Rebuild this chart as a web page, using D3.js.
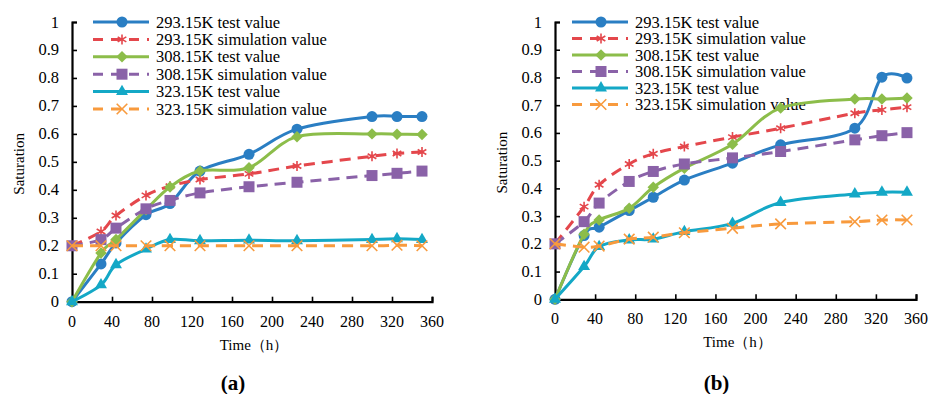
<!DOCTYPE html>
<html>
<head>
<meta charset="utf-8">
<script src="https://cdn.jsdelivr.net/npm/d3@7"></script>
<style>
    body { margin: 0; background: #fff; }
    svg { display: block; }
</style>
</head>
<body>
<svg id="chart"></svg>
<script>
// time points (h) for each panel
const timesA = [0, 29, 44, 74, 98, 128, 177, 225, 300, 325, 350];
const timesB = [0, 29, 44, 74, 98, 129, 177, 225, 299, 326, 351];

// panel (a)
const test293A = [0, 0.135, 0.21, 0.311, 0.351, 0.467, 0.527, 0.617, 0.662, 0.662, 0.662];
const sim293A  = [0.2, 0.251, 0.308, 0.38, 0.413, 0.437, 0.457, 0.485, 0.52, 0.53, 0.535];
const test308A = [0, 0.174, 0.222, 0.329, 0.41, 0.467, 0.479, 0.59, 0.6, 0.599, 0.598];
const sim308A  = [0.2, 0.222, 0.263, 0.332, 0.362, 0.389, 0.411, 0.427, 0.451, 0.459, 0.467];
const test323A = [0, 0.06, 0.132, 0.188, 0.222, 0.218, 0.22, 0.218, 0.222, 0.225, 0.222];
const sim323A  = [0.2, 0.2, 0.2, 0.2, 0.2, 0.2, 0.2, 0.2, 0.2, 0.202, 0.2];

// panel (b)
const test293B = [0, 0.23, 0.26, 0.32, 0.368, 0.43, 0.491, 0.557, 0.617, 0.801, 0.798];
const sim293B  = [0.2, 0.334, 0.413, 0.488, 0.525, 0.551, 0.585, 0.617, 0.671, 0.683, 0.693];
const test308B = [0, 0.235, 0.286, 0.328, 0.404, 0.473, 0.559, 0.69, 0.722, 0.722, 0.726];
const sim308B  = [0.2, 0.28, 0.347, 0.425, 0.461, 0.488, 0.51, 0.533, 0.575, 0.59, 0.601];
const test323B = [0, 0.118, 0.19, 0.214, 0.217, 0.244, 0.274, 0.349, 0.38, 0.386, 0.386];
const sim323B  = [0.2, 0.188, 0.192, 0.217, 0.224, 0.24, 0.256, 0.272, 0.28, 0.286, 0.286];

const seriesNames = [
    '293.15K test value', '293.15K simulation value',
    '308.15K test value', '308.15K simulation value',
    '323.15K test value', '323.15K simulation value'
];
const xTicks = [0, 40, 80, 120, 160, 200, 240, 280, 320, 360];
const yTicks = [0, 0.1, 0.2, 0.3, 0.4, 0.5, 0.6, 0.7, 0.8, 0.9, 1];

const FONT = '"Liberation Serif", "Times New Roman", serif';

const styles = [
    { color: '#2a7ec3', dash: null, marker: 'circle' },
    { color: '#e4474c', dash: '11,7', marker: 'asterisk' },
    { color: '#8cbd4a', dash: null, marker: 'diamond' },
    { color: '#8a62a8', dash: '11,7', marker: 'square' },
    { color: '#14a8c6', dash: null, marker: 'triangle' },
    { color: '#f89a3d', dash: '11,7', marker: 'times' }
];

class SaturationChart {
    constructor(_config, _times, _series) {
        this.config = {
            svg: _config.svg,
            left: _config.left,
            right: _config.right,
            top: _config.top,
            bottom: _config.bottom,
            label: _config.label,
            legendX: _config.legendX,
            legendStep: _config.legendStep
        };
        this.times = _times;
        this.series = _series;
        this.initVis();
    }

    initVis() {
        let vis = this;
        const c = vis.config;

        vis.xScale = d3.scaleLinear().domain([0, 360]).range([c.left, c.right]);
        vis.yScale = d3.scaleLinear().domain([0, 1]).range([c.bottom, c.top]);

        vis.g = c.svg.append('g');

        // axes, ticks pointing inward
        const yAxis = d3.axisRight(vis.yScale).tickValues(yTicks).tickSize(5).tickFormat('');
        const xAxis = d3.axisTop(vis.xScale).tickValues(xTicks).tickSize(5).tickFormat('');

        const yG = vis.g.append('g').attr('transform', `translate(${c.left},0)`).call(yAxis);
        const xG = vis.g.append('g').attr('transform', `translate(0,${c.bottom})`).call(xAxis);
        [yG, xG].forEach(a => {
            a.select('.domain').attr('stroke', '#000').attr('stroke-width', 2.2);
            a.selectAll('.tick line').attr('stroke', '#000').attr('stroke-width', 1.6);
        });

        vis.g.selectAll('.ylab')
            .data(yTicks)
            .join('text')
            .attr('x', c.left - 13)
            .attr('y', d => vis.yScale(d) + 5.5)
            .attr('text-anchor', 'end')
            .style('font-family', FONT)
            .style('font-size', '16.5px')
            .text(d => d3.format('~g')(d));

        vis.g.selectAll('.xlab')
            .data(xTicks)
            .join('text')
            .attr('x', d => vis.xScale(d))
            .attr('y', c.bottom + 25)
            .attr('text-anchor', 'middle')
            .style('font-family', FONT)
            .style('font-size', '16px')
            .text(d => d);

        vis.g.append('text')
            .attr('transform', `translate(${c.left - 48},${(c.top + c.bottom) / 2 + 2}) rotate(-90)`)
            .attr('text-anchor', 'middle')
            .style('font-family', FONT)
            .style('font-size', '15px')
            .text('Saturation');

        vis.g.append('text')
            .attr('x', (c.left + c.right) / 2 + 2)
            .attr('y', c.bottom + 48)
            .attr('text-anchor', 'middle')
            .style('font-family', FONT)
            .style('font-size', '15px')
            .text('Time（h）');

        vis.g.append('text')
            .attr('x', (c.left + c.right) / 2 - 19)
            .attr('y', 390)
            .attr('text-anchor', 'middle')
            .style('font-family', FONT)
            .style('font-size', '21px')
            .style('font-weight', 'bold')
            .text(c.label);

        vis.renderVis();
    }

    drawMarker(sel, st) {
        const sym = {
            circle: [d3.symbolCircle, 95],
            square: [d3.symbolSquare, 121],
            diamond: [d3.symbolSquare, 66],
            triangle: [d3.symbolTriangle, 62],
            asterisk: [d3.symbolAsterisk, 70],
            times: [d3.symbolTimes, 75]
        }[st.marker];
        const stroked = st.marker === 'asterisk' || st.marker === 'times';
        sel.attr('d', d3.symbol(sym[0], sym[1])())
            .attr('fill', stroked ? 'none' : st.color)
            .attr('stroke', stroked ? st.color : 'none')
            .attr('stroke-width', stroked ? 1.6 : 0);
        if (st.marker === 'diamond') {
            sel.attr('transform', function () {
                return d3.select(this).attr('transform') + ' rotate(45)';
            });
        }
    }

    renderVis() {
        let vis = this;
        const c = vis.config;

        const line = d3.line()
            .x(d => vis.xScale(d[0]))
            .y(d => vis.yScale(d[1]))
            .curve(d3.curveCardinal.tension(0));

        // legend
        const leg = vis.g.append('g');
        seriesNames.forEach((name, i) => {
            const st = styles[i];
            const y = c.top + i * c.legendStep;
            leg.append('line')
                .attr('x1', c.legendX).attr('x2', c.legendX + 56)
                .attr('y1', y).attr('y2', y)
                .attr('stroke', st.color)
                .attr('stroke-width', 3)
                .attr('stroke-dasharray', st.dash ? '10,8' : null);
            leg.append('path')
                .attr('transform', `translate(${c.legendX + 29},${y})`)
                .call(sel => vis.drawMarker(sel, st));
            leg.append('text')
                .attr('x', c.legendX + 63)
                .attr('y', y + 5.5)
                .style('font-family', FONT)
                .style('font-size', '16.5px')
                .text(name);
        });

        vis.series.forEach((vals, i) => {
            const st = styles[i];
            const pts = vis.times.map((t, j) => [t, vals[j]]);
            const sg = vis.g.append('g');
            sg.append('path')
                .attr('d', line(pts))
                .attr('fill', 'none')
                .attr('stroke', st.color)
                .attr('stroke-width', 3)
                .attr('stroke-dasharray', st.dash);
            sg.selectAll('path.m')
                .data(pts)
                .join('path')
                .attr('class', 'm')
                .attr('transform', d => `translate(${vis.xScale(d[0])},${vis.yScale(d[1])})`)
                .call(sel => vis.drawMarker(sel, st));
        });
    }
}

const svg = d3.select('#chart').attr('width', 935).attr('height', 394);

new SaturationChart(
    { svg: svg, left: 72, right: 432, top: 22, bottom: 301.7, label: '(a)', legendX: 93, legendStep: 17.4 },
    timesA,
    [test293A, sim293A, test308A, sim308A, test323A, sim323A]
);
new SaturationChart(
    { svg: svg, left: 555, right: 916, top: 22, bottom: 299.3, label: '(b)', legendX: 572, legendStep: 16.5 },
    timesB,
    [test293B, sim293B, test308B, sim308B, test323B, sim323B]
);
</script>
</body>
</html>
